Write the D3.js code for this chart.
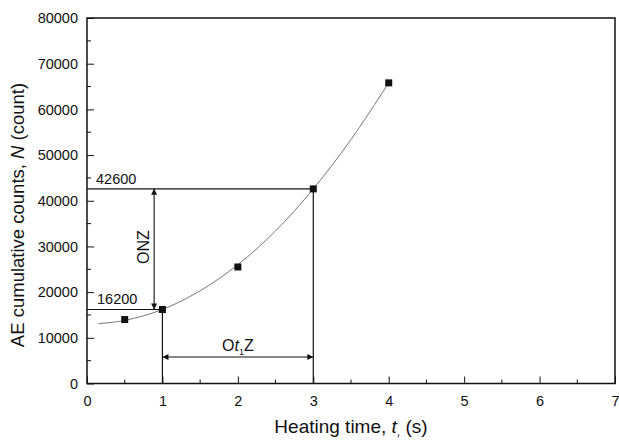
<!DOCTYPE html>
<html>
<head>
<meta charset="UTF-8">
<style>
  body { margin: 0; background: #fff; }
  svg { font-family: Arial, "Liberation Sans", Helvetica, sans-serif; }
  .tick text { font-size: 14.5px; fill: #111; }
</style>
</head>
<body>
<svg width="619" height="441"></svg>
<script src="https://d3js.org/d3.v7.min.js"></script>
<script>
// measured points
const heatTime = [0.5, 1, 2, 3, 4];
const aeCounts = [14000, 16200, 25500, 42600, 65800];

// fitted curve
const curveTime = [0.15, 0.5, 1, 1.5, 2, 2.5, 3, 3.5, 4];
const curveCounts = [13100, 13800, 16200, 20300, 26000, 33400, 42600, 53400, 65800];

// annotation values
const nLow = 16200, nHigh = 42600;
const tLow = 1, tHigh = 3;
const arrowT = 0.89;        // x position of the vertical ΔN arrow
const arrowN = 5800;        // y position of the horizontal Δt arrow

const xTicks = [0, 1, 2, 3, 4, 5, 6, 7];
const yTicks = [0, 10000, 20000, 30000, 40000, 50000, 60000, 70000, 80000];

const mLeft = 87, mRight = 615, mTop = 18, mBottom = 383.5;

const svg = d3.select("svg");

const x = d3.scaleLinear().domain([0, 7]).range([mLeft, mRight]);
const y = d3.scaleLinear().domain([0, 80000]).range([mBottom, mTop]);

// arrowhead
svg.append("defs").append("marker")
  .attr("id", "arr")
  .attr("viewBox", "0 0 10 10")
  .attr("refX", 10).attr("refY", 5)
  .attr("markerWidth", 9).attr("markerHeight", 6)
  .attr("markerUnits", "userSpaceOnUse")
  .attr("orient", "auto-start-reverse")
  .append("path").attr("d", "M0,0 L10,5 L0,10 Z").attr("fill", "#111");

// frame
svg.append("rect")
  .attr("x", mLeft).attr("y", mTop)
  .attr("width", mRight - mLeft).attr("height", mBottom - mTop)
  .attr("fill", "none").attr("stroke", "#111").attr("stroke-width", 1.5);

// x axis, inward ticks
const xMinor = d3.range(0.5, 7, 1);
svg.append("g").selectAll("line").data(xMinor).enter().append("line")
  .attr("x1", d => x(d)).attr("x2", d => x(d))
  .attr("y1", mBottom).attr("y2", mBottom - 4)
  .attr("stroke", "#111");
const xAxis = svg.append("g")
  .attr("transform", `translate(0,${mBottom})`)
  .call(d3.axisBottom(x).tickValues(xTicks).tickFormat(d3.format("d")).tickSizeInner(-7).tickSizeOuter(0).tickPadding(12));
xAxis.select(".domain").remove();
xAxis.selectAll(".tick line").attr("stroke", "#111");

// y axis, inward ticks
const yMinor = d3.range(5000, 80000, 10000);
svg.append("g").selectAll("line").data(yMinor).enter().append("line")
  .attr("x1", mLeft).attr("x2", mLeft + 4)
  .attr("y1", d => y(d)).attr("y2", d => y(d))
  .attr("stroke", "#111");
const yAxis = svg.append("g")
  .attr("transform", `translate(${mLeft},0)`)
  .call(d3.axisLeft(y).tickValues(yTicks).tickFormat(d3.format("d")).tickSizeInner(-7).tickSizeOuter(0).tickPadding(9));
yAxis.select(".domain").remove();
yAxis.selectAll(".tick line").attr("stroke", "#111");

// fitted curve
const line = d3.line()
  .x((d, i) => x(curveTime[i]))
  .y(d => y(d))
  .curve(d3.curveCatmullRom);
svg.append("path")
  .datum(curveCounts)
  .attr("d", line)
  .attr("fill", "none")
  .attr("stroke", "#666")
  .attr("stroke-width", 0.9);

// guide lines
const guides = svg.append("g").attr("stroke", "#111").attr("stroke-width", 1.2);
guides.append("line").attr("x1", x(0)).attr("x2", x(tHigh)).attr("y1", y(nHigh)).attr("y2", y(nHigh));
guides.append("line").attr("x1", x(tHigh)).attr("x2", x(tHigh)).attr("y1", y(nHigh)).attr("y2", y(0));
guides.append("line").attr("x1", x(0)).attr("x2", x(tLow)).attr("y1", y(nLow)).attr("y2", y(nLow));
guides.append("line").attr("x1", x(tLow)).attr("x2", x(tLow)).attr("y1", y(nLow)).attr("y2", y(0));

// double arrows
svg.append("line")
  .attr("x1", x(arrowT)).attr("x2", x(arrowT))
  .attr("y1", y(nHigh)).attr("y2", y(nLow))
  .attr("stroke", "#111").attr("stroke-width", 1.1)
  .attr("marker-start", "url(#arr)").attr("marker-end", "url(#arr)");
svg.append("line")
  .attr("x1", x(tLow)).attr("x2", x(tHigh))
  .attr("y1", y(arrowN)).attr("y2", y(arrowN))
  .attr("stroke", "#111").attr("stroke-width", 1.1)
  .attr("marker-start", "url(#arr)").attr("marker-end", "url(#arr)");

// data markers
svg.append("g").selectAll("rect").data(aeCounts).enter().append("rect")
  .attr("x", (d, i) => x(heatTime[i]) - 3.5)
  .attr("y", d => y(d) - 3.5)
  .attr("width", 7).attr("height", 7)
  .attr("fill", "#111");

// value labels
svg.append("text").attr("x", x(0) + 9).attr("y", y(nHigh) - 5)
  .attr("font-size", 14.5).attr("fill", "#111").text("42600");
svg.append("text").attr("x", x(0) + 10).attr("y", y(nLow) - 5)
  .attr("font-size", 14.5).attr("fill", "#111").text("16200");

// ΔN label (rotated)
svg.append("text")
  .attr("transform", `translate(${x(arrowT) - 5},${y((nLow + nHigh) / 2) - 2}) rotate(-90)`)
  .attr("text-anchor", "middle")
  .attr("font-size", 16).attr("fill", "#111")
  .text("ONZ");

// Δt label
const dt = svg.append("text")
  .attr("x", x((tLow + tHigh) / 2)).attr("y", y(arrowN) - 6)
  .attr("text-anchor", "middle")
  .attr("font-size", 16).attr("fill", "#111");
dt.append("tspan").text("O");
dt.append("tspan").attr("font-style", "italic").text("t");
dt.append("tspan").attr("font-size", 9).attr("dy", 4).text("1");
dt.append("tspan").attr("dy", -4).text("Z");

// axis titles
const xt = svg.append("text")
  .attr("x", 351).attr("y", 433)
  .attr("text-anchor", "middle")
  .attr("font-size", 19).attr("fill", "#111");
xt.append("tspan").text("Heating time, ");
xt.append("tspan").attr("font-style", "italic").text("t");
xt.append("tspan").attr("font-size", 12).attr("dy", 3).text(",");
xt.append("tspan").attr("dy", -3).text(" (s)");

const yt = svg.append("text")
  .attr("transform", "translate(24,215) rotate(-90)")
  .attr("text-anchor", "middle")
  .attr("font-size", 18.5).attr("fill", "#111");
yt.append("tspan").text("AE cumulative counts, ");
yt.append("tspan").attr("font-style", "italic").text("N");
yt.append("tspan").text(" (count)");
</script>
</body>
</html>
